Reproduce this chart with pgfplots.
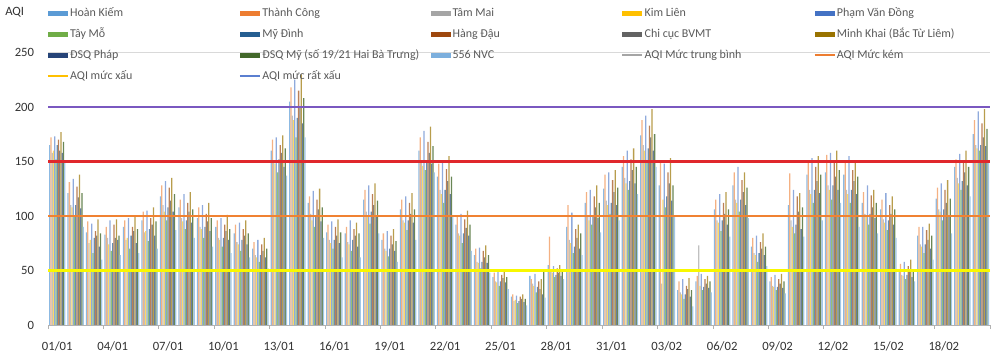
\documentclass[border=0pt]{standalone}
\usepackage{fontspec}
\setmainfont{Carlito}
\usepackage{pgfplots}
\usepackage{pgfplotstable}
\pgfplotsset{compat=1.18}

\definecolor{cHK}{HTML}{5B9BD5}
\definecolor{cTC}{HTML}{ED7D31}
\definecolor{cTM}{HTML}{A5A5A5}
\definecolor{cKL}{HTML}{FFC000}
\definecolor{cPVD}{HTML}{4472C4}
\definecolor{cTMo}{HTML}{70AD47}
\definecolor{cMD}{HTML}{255E91}
\definecolor{cHD}{HTML}{9E480E}
\definecolor{cCC}{HTML}{636363}
\definecolor{cMK}{HTML}{997300}
\definecolor{cDP}{HTML}{264478}
\definecolor{cDM}{HTML}{43682B}
\definecolor{cNVC}{HTML}{7CAFDD}
\definecolor{lYellow}{HTML}{F8F800}
\definecolor{lOrange}{HTML}{F08232}
\definecolor{lRed}{HTML}{E0282C}
\definecolor{lPurple}{HTML}{7A58C0}
\definecolor{lgGray}{HTML}{A5A5A5}
\definecolor{lgOrange}{HTML}{ED7D31}
\definecolor{lgYellow}{HTML}{FFC000}
\definecolor{lgBlue}{HTML}{5B7FD0}
\definecolor{txt}{HTML}{595959}

\pgfplotstableread{
d HK TC TM KL PVD TMo MD HD CC MK DP DM NVC
0 165 172 158 160 173 152 165 170 160 177 158 168 150
1 121 131 110 108 134 99 110 127 117 138 107 121 90
2 85 95 75 78 93 66 80 86 82 97 72 84 60
3 83 90 80 74 96 68 75 92 80 97 78 82 64
4 90 96 78 80 98 70 82 90 86 100 75 88 66
5 96 104 85 86 105 77 88 98 92 108 82 95 70
6 118 128 110 104 132 96 108 126 114 135 104 120 87
7 108 115 98 95 120 88 96 112 104 122 94 106 80
8 98 108 90 88 110 80 90 102 95 112 86 98 72
9 90 96 80 78 98 72 80 92 86 101 78 88 66
10 84 92 76 74 94 68 78 88 82 96 74 84 62
11 70 76 64 62 78 58 64 74 68 80 62 70 52
12 160 170 150 148 172 140 152 165 158 174 145 162 137
13 205 218 192 188 225 172 190 215 200 230 185 208 172
14 112 118 102 96 123 90 100 115 106 125 95 108 80
15 85 92 78 75 95 70 78 90 82 97 75 85 62
16 84 90 76 74 96 68 78 88 82 94 72 84 62
17 115 124 104 100 128 93 104 120 110 130 100 114 84
18 78 84 70 68 86 63 70 82 74 88 68 77 58
19 106 115 96 94 118 87 96 112 102 121 94 106 78
20 160 172 150 146 178 142 150 168 158 182 148 164 140
21 136 148 124 120 151 112 124 143 132 155 120 136 100
22 92 100 84 82 102 75 84 97 89 105 82 92 68
23 64 70 58 57 71 52 58 68 62 73 57 64 48
24 44 48 40 39 49 36 40 46 43 50 39 44 33
25 26 28 22 23 27 20 22 26 24 28 21 24 18
26 45 42 38 36 47 30 35 40 33 42 28 50 25
27 55 81 50 48 54 44 46 52 48 55 45 50 42
28 90 110 78 75 103 66 72 88 80 92 70 84 64
29 112 122 100 96 124 92 100 118 108 128 98 112 85
30 125 138 114 110 140 102 112 133 122 142 110 126 96
31 145 155 135 130 160 124 132 152 142 162 130 145 120
32 174 188 165 160 192 150 162 183 172 198 160 175 145
33 128 150 38 115 148 108 118 140 130 153 114 128 100
34 32 40 30 28 42 24 28 36 33 43 26 32 17
35 40 45 73 36 47 32 35 42 38 45 34 40 30
36 106 115 96 94 120 86 96 112 102 122 92 106 81
37 128 140 115 112 145 104 115 133 122 140 110 126 98
38 72 80 66 64 82 58 66 76 70 84 64 72 54
39 40 44 36 35 46 32 35 42 38 47 34 40 29
40 110 139 96 90 124 84 92 118 104 121 88 108 81
41 138 150 124 120 153 112 124 145 132 155 121 138 96
42 140 156 128 124 158 115 128 150 136 160 124 142 112
43 138 150 124 120 155 112 124 142 132 150 120 136 90
44 112 122 102 100 128 92 102 119 108 124 98 112 84
45 106 115 97 94 121 87 96 110 102 118 92 106 80
46 50 56 46 45 58 42 46 54 50 60 44 50 40
47 82 90 74 72 90 66 74 87 78 93 70 82 60
48 116 126 106 104 130 96 106 124 112 133 100 116 84
49 145 152 135 130 157 124 132 150 140 160 128 145 118
50 175 188 165 162 196 160 165 185 172 198 164 180 150
}\aqidata

\pgfplotsset{
  barlegend/.style={legend image code/.code={\fill[##1, draw=none] (0pt,-1.8pt) rectangle (15pt,1.8pt);}},
  linelegend/.style={legend image code/.code={\draw[##1] (0pt,0pt) -- (15pt,0pt);}},
  stn/.style={forget plot, draw=none, ybar, bar width=0.95pt},
}
\newcommand{\lgent}[1]{\makebox[125.7pt][l]{#1}}

\begin{document}
\begin{tikzpicture}
\begin{axis}[
  scale only axis,
  width=706.5pt, height=204.4pt,
  xmin=-0.5, xmax=50.5, ymin=0, ymax=250,
  axis lines*=left,
  x axis line style={draw=black!30, line width=0.6pt},
  y axis line style={draw=none},
  xtick={0,3,...,48},
  xticklabels={01/01,04/01,07/01,10/01,13/01,16/01,19/01,22/01,25/01,28/01,31/01,03/02,06/02,09/02,12/02,15/02,18/02},
  minor xtick={-0.5,2.5,...,50.5},
  major x tick style={draw=none},
  minor x tick style={draw=black!30, line width=0.6pt},
  minor tick length=3pt,
  tick align=outside,
  ytick={0,50,...,250},
  ytick style={draw=none},
  ymajorgrids, grid style={draw=black!15, line width=0.6pt},
  /pgf/number format/assume math mode=true,
  ticklabel style={font=\fontsize{9.5}{10}\selectfont, text=black!80},
  xticklabel style={inner sep=0pt, yshift=-8pt},
  yticklabel style={inner sep=0pt, xshift=-6pt},
  legend columns=5,
  legend cell align=left,
  legend style={at={(0,1)}, anchor=north west, draw=none, fill=none,
    inner sep=0pt, xshift=-1pt, yshift=34.5pt,
    font=\fontsize{9}{10}\selectfont, text=txt,
    /tikz/column sep=0pt, /tikz/row sep=5.7pt,
    nodes={inner sep=1pt, text height=6.3pt, text depth=1.7pt}},
]
\addplot[stn, bar shift=-5.7pt, fill=cHK!70!white] table[x=d,y=HK]{\aqidata};
\addplot[stn, bar shift=-4.75pt, fill=cTC!60!white] table[x=d,y=TC]{\aqidata};
\addplot[stn, bar shift=-3.8pt, fill=cTM!70!white] table[x=d,y=TM]{\aqidata};
\addplot[stn, bar shift=-2.85pt, fill=cKL!60!white] table[x=d,y=KL]{\aqidata};
\addplot[stn, bar shift=-1.9pt, fill=cPVD!60!white] table[x=d,y=PVD]{\aqidata};
\addplot[stn, bar shift=-0.95pt, fill=cTMo!75!white] table[x=d,y=TMo]{\aqidata};
\addplot[stn, bar shift=0pt, fill=cMD!70!white] table[x=d,y=MD]{\aqidata};
\addplot[stn, bar shift=0.95pt, fill=cHD!70!white] table[x=d,y=HD]{\aqidata};
\addplot[stn, bar shift=1.9pt, fill=cCC!80!white] table[x=d,y=CC]{\aqidata};
\addplot[stn, bar shift=2.85pt, fill=cMK!70!white] table[x=d,y=MK]{\aqidata};
\addplot[stn, bar shift=3.8pt, fill=cDP!70!white] table[x=d,y=DP]{\aqidata};
\addplot[stn, bar shift=4.75pt, fill=cDM!80!white] table[x=d,y=DM]{\aqidata};
\addplot[stn, bar shift=5.7pt, fill=cNVC!70!white] table[x=d,y=NVC]{\aqidata};

\addplot[forget plot, sharp plot, draw=lYellow, line width=2.2pt] coordinates {(-0.5,50) (50.5,50)};
\addplot[forget plot, sharp plot, draw=lOrange, line width=2.2pt] coordinates {(-0.5,100) (50.5,100)};
\addplot[forget plot, sharp plot, draw=lRed, line width=2.8pt] coordinates {(-0.5,150) (50.5,150)};
\addplot[forget plot, sharp plot, draw=lPurple, line width=2pt] coordinates {(-0.5,200) (50.5,200)};

\addlegendimage{barlegend, fill=cHK}\addlegendentry{\lgent{Hoàn Kiếm}}
\addlegendimage{barlegend, fill=cTC}\addlegendentry{\lgent{Thành Công}}
\addlegendimage{barlegend, fill=cTM}\addlegendentry{\lgent{Tâm Mai}}
\addlegendimage{barlegend, fill=cKL}\addlegendentry{\lgent{Kim Liên}}
\addlegendimage{barlegend, fill=cPVD}\addlegendentry{\lgent{Phạm Văn Đồng}}
\addlegendimage{barlegend, fill=cTMo}\addlegendentry{\lgent{Tây Mỗ}}
\addlegendimage{barlegend, fill=cMD}\addlegendentry{\lgent{Mỹ Đình}}
\addlegendimage{barlegend, fill=cHD}\addlegendentry{\lgent{Hàng Đậu}}
\addlegendimage{barlegend, fill=cCC}\addlegendentry{\lgent{Chi cục BVMT}}
\addlegendimage{barlegend, fill=cMK}\addlegendentry{\lgent{Minh Khai (Bắc Từ Liêm)}}
\addlegendimage{barlegend, fill=cDP}\addlegendentry{\lgent{ĐSQ Pháp}}
\addlegendimage{barlegend, fill=cDM}\addlegendentry{\lgent{ĐSQ Mỹ (số 19/21 Hai Bà Trưng)}}
\addlegendimage{barlegend, fill=cNVC}\addlegendentry{\lgent{556 NVC}}
\addlegendimage{linelegend, draw=lgGray, line width=1.4pt}\addlegendentry{\lgent{AQI Mức trung bình}}
\addlegendimage{linelegend, draw=lgOrange, line width=1.4pt}\addlegendentry{\lgent{AQI Mức kém}}
\addlegendimage{linelegend, draw=lgYellow, line width=1.4pt}\addlegendentry{\lgent{AQI mức xấu}}
\addlegendimage{linelegend, draw=lgBlue, line width=1.4pt}\addlegendentry{\lgent{AQI mức rất xấu}}
\end{axis}
\node[anchor=west, inner sep=0pt, font=\fontsize{9.5}{10}\selectfont, text=black!80] at (-32.25pt,234.75pt) {AQI};
\pgfresetboundingbox
\path[use as bounding box] (-36pt,-26.25pt) rectangle (714pt,243.75pt);
\end{tikzpicture}
\end{document}
